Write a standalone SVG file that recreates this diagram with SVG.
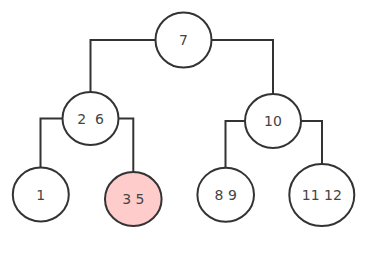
<svg xmlns="http://www.w3.org/2000/svg" width="369" height="272" viewBox="0 0 369 272">
<style>
.n{fill:#fff;stroke:#333;stroke-width:2}
.hl{fill:#ffcccc}
.t{font-family:"DejaVu Sans",sans-serif;font-size:14px;fill:#444;text-anchor:middle;white-space:pre}
.c{fill:none;stroke:#333;stroke-width:2}
</style>
<rect width="369" height="272" fill="#fff"/>
<g id="connectors">
<polyline class="c" points="155.5,40 90.5,40 90.5,92"/>
<polyline class="c" points="211.5,40 273,40 273,94"/>
<polyline class="c" points="62.5,118.5 40.5,118.5 40.5,167.5"/>
<polyline class="c" points="118.5,118.5 133.3,118.5 133.3,172"/>
<polyline class="c" points="245,121 225.5,121 225.5,168"/>
<polyline class="c" points="301,121 322,121 322,164"/>
</g>
<g id="node-7"><ellipse class="n" cx="183.5" cy="40" rx="28" ry="27.5"/><text class="t" x="183.5" y="45">7</text></g>
<g id="node-26"><ellipse class="n" cx="90.5" cy="118.5" rx="28" ry="26.5"/><text class="t" x="90.5" y="123.5" xml:space="preserve">2  6</text></g>
<g id="node-10"><ellipse class="n" cx="273" cy="121" rx="28" ry="27"/><text class="t" x="273" y="126">10</text></g>
<g id="node-1"><ellipse class="n" cx="40.8" cy="194.5" rx="28" ry="27"/><text class="t" x="40.8" y="199.5">1</text></g>
<g id="node-35"><ellipse class="n hl" cx="133.3" cy="199" rx="28.3" ry="27"/><text class="t" x="133.3" y="204">3 5</text></g>
<g id="node-89"><ellipse class="n" cx="225.7" cy="194.7" rx="28.3" ry="27"/><text class="t" x="225.7" y="199.7">8 9</text></g>
<g id="node-1112"><ellipse class="n" cx="321.8" cy="195" rx="32.5" ry="31"/><text class="t" x="321.8" y="200">11 12</text></g>
</svg>
